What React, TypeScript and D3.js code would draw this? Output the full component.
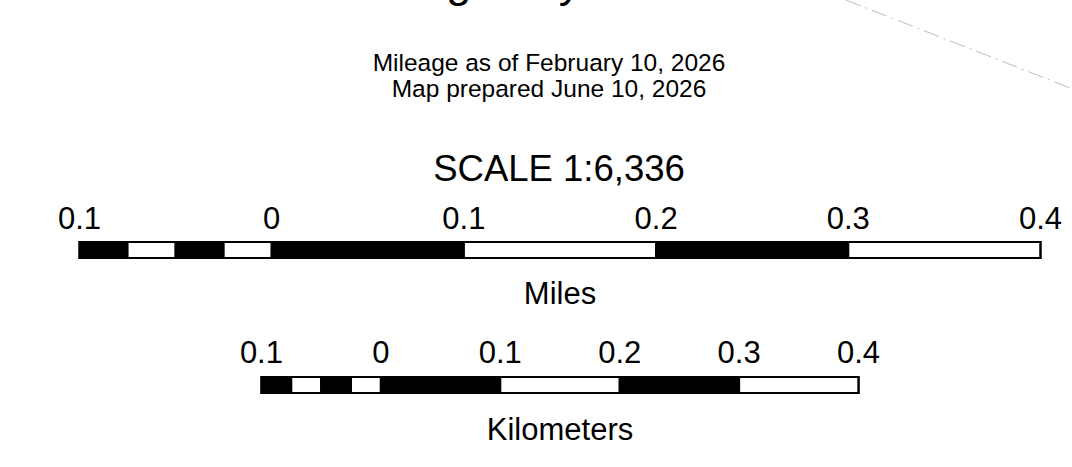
import * as d3 from 'd3';

// Scale bar map legend, 1:6,336 (0.1 mile = 1 inch on the sheet)

const WIDTH = 1072;
const HEIGHT = 467;

const title = 'Kingsbury Trail';
const subtitleLines = ['Mileage as of February 10, 2026', 'Map prepared June 10, 2026'];
const scaleText = 'SCALE 1:6,336';

// tick values shared by both bars (left of zero is the subdivided extension)
const tickValues = [-0.1, 0, 0.1, 0.2, 0.3, 0.4];
// segment breaks, alternating black / white starting with black
const segmentBreaks = [-0.1, -0.075, -0.05, -0.025, 0, 0.1, 0.2, 0.3, 0.4];

const MILES_TO_KM = 0.621371; // km expressed in miles

const bars = [
  { unit: 'Miles', factor: 1, labelY: 229, barY: 242, unitY: 304 },
  { unit: 'Kilometers', factor: MILES_TO_KM, labelY: 363, barY: 377, unitY: 440 },
];

// fragment of a map boundary running off the top-right corner (frame fractions)
const boundary: [number, number][] = [
  [0.789, 0],
  [1.0, 0.19],
];

const FONT = '"Liberation Sans", Arial, Helvetica, sans-serif';

function ScaleBar({ unit, factor, labelY, barY, unitY }: typeof bars[number]) {
  const pxPerMile = 1922;
  const cx = 560;
  const x = d3
    .scaleLinear()
    .domain([-0.1, 0.4])
    .range([cx - 0.25 * pxPerMile * factor, cx + 0.25 * pxPerMile * factor]);
  const barH = 16;

  const segs = d3.pairs(segmentBreaks).map(([a, b], i) => ({ a, b, black: i % 2 === 0 }));

  return (
    <g>
      {tickValues.map((t) => (
        <text
          key={t}
          x={x(t)}
          y={labelY}
          textAnchor="middle"
          fontSize={31}
          fontFamily={FONT}
          fill="#000"
        >
          {String(Math.abs(t))}
        </text>
      ))}
      {segs.map((s, i) => (
        <rect
          key={i}
          x={x(s.a)}
          y={barY}
          width={x(s.b) - x(s.a)}
          height={barH}
          fill={s.black ? '#000' : '#fff'}
          stroke="#000"
          strokeWidth={2}
        />
      ))}
      <rect
        x={x(-0.1)}
        y={barY}
        width={x(0.4) - x(-0.1)}
        height={barH}
        fill="none"
        stroke="#000"
        strokeWidth={2}
      />
      <text x={cx} y={unitY} textAnchor="middle" fontSize={31} fontFamily={FONT} fill="#000">
        {unit}
      </text>
    </g>
  );
}

export default function App() {
  const fx = d3.scaleLinear().domain([0, 1]).range([0, WIDTH]);
  const fy = d3.scaleLinear().domain([0, 1]).range([0, HEIGHT]);
  const line = d3
    .line<[number, number]>()
    .x((d) => fx(d[0]))
    .y((d) => fy(d[1]));

  return (
    <svg
      width={WIDTH}
      height={HEIGHT}
      style={{ position: 'absolute', left: 0, top: 0, background: '#fff' }}
    >
      <path
        d={line(boundary) ?? ''}
        fill="none"
        stroke="#bdbdbd"
        strokeWidth={1}
        strokeDasharray="16 5 2 5"
      />
      <text x={530} y={-3} textAnchor="middle" fontSize={45} fontFamily={FONT} fill="#000">
        {title}
      </text>
      {subtitleLines.map((s, i) => (
        <text key={s} x={549} y={71 + i * 26} textAnchor="middle" fontSize={24.5} fontFamily={FONT} fill="#000">
          {s}
        </text>
      ))}
      <text x={559} y={181} textAnchor="middle" fontSize={36.5} fontFamily={FONT} fill="#000">
        {scaleText}
      </text>
      {bars.map((b) => (
        <ScaleBar key={b.unit} {...b} />
      ))}
    </svg>
  );
}
